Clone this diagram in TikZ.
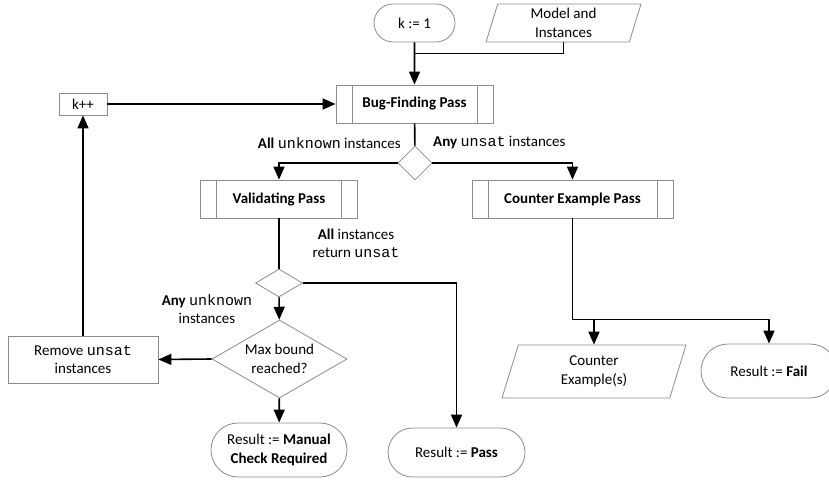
\documentclass[tikz,border=0pt]{standalone}
\usepackage{fontspec}
\setmainfont{Carlito}
\setmonofont{Liberation Mono}
\usetikzlibrary{positioning}
\usetikzlibrary{calc}
\usetikzlibrary{arrows.meta}
\usetikzlibrary{shapes.geometric}
\usetikzlibrary{shapes.misc}

\begin{document}
\begin{tikzpicture}[x=1pt,y=-1pt,
        every node/.style={font=\fontsize{15}{18.5}\selectfont, align=center, inner sep=0pt},
        box/.style={draw=gray!90, line width=0.8pt, fill=white},
        terminal/.style={box, rounded rectangle},
        process/.style={box, rectangle},
        subproc/.style={box, rectangle, minimum width=157pt, minimum height=38pt,
            path picture={
                \draw[gray!90, line width=0.8pt] ([xshift=16pt]path picture bounding box.north west) -- ([xshift=16pt]path picture bounding box.south west);
                \draw[gray!90, line width=0.8pt] ([xshift=-16pt]path picture bounding box.north east) -- ([xshift=-16pt]path picture bounding box.south east);
            }},
        iodata/.style={box, trapezium, trapezium stretches body},
        decision/.style={box, diamond, aspect=1.7},
        wire/.style={line width=1.6pt, draw=black},
        arrow/.style={wire, -{Triangle[length=13pt,width=11pt]}},
        lbl/.style={font=\fontsize{15}{18.5}\selectfont}]
    \useasboundingbox (0,0) rectangle (829,479);

    % Entrada
    \node [terminal, minimum width=81pt, minimum height=38pt] (start) at (414.5,23) {k := 1};
    \node [iodata, trapezium left angle=68, trapezium right angle=112, minimum width=155pt, minimum height=38pt] (model) at (563.5,23) {Model and\\Instances};

    % Passos
    \node [subproc] (bugfind) at (414.5,104) {\textbf{Bug-Finding Pass}};
    \node [process, minimum width=48pt, minimum height=22pt] (incr) at (83,104) {k++};
    \node [decision, minimum width=34pt, minimum height=34pt] (split1) at (415,163) {};
    \node [subproc] (validate) at (279,199) {\textbf{Validating Pass}};
    \node [subproc, minimum width=201pt] (cexpass) at (572.5,199) {\textbf{Counter Example Pass}};
    \node [decision, minimum width=47pt, minimum height=28pt] (split2) at (279,283) {};
    \node [decision, minimum width=135pt, minimum height=78pt] (maxbound) at (279.5,359) {Max bound\\reached?};
    \node [process, minimum width=150pt, minimum height=47pt] (remove) at (83,359.5) {Remove \texttt{unsat}\\instances};

    % Resultados
    \node [terminal, minimum width=136pt, minimum height=54pt] (manual) at (279,450) {Result := \textbf{Manual}\\\textbf{Check Required}};
    \node [terminal, minimum width=137pt, minimum height=49pt] (pass) at (456.5,452.5) {Result := \textbf{Pass}};
    \node [iodata, trapezium left angle=62, trapezium right angle=118, minimum width=184pt, minimum height=53pt] (cexout) at (594,371.5) {Counter\\Example(s)};
    \node [terminal, minimum width=136pt, minimum height=54pt] (fail) at (769,371) {Result := \textbf{Fail}};

    % Rótulos
    \node [lbl, anchor=east] (lunknown) at (401,143) {\textbf{All} \texttt{unknown} instances};
    \node [lbl, anchor=west] (lunsat) at (433,143) {\textbf{Any} \texttt{unsat} instances};
    \node [lbl] (lallunsat) at (356,243.5) {\textbf{All} instances\\return \texttt{unsat}};
    \node [lbl] (lanyunk) at (207,309) {\textbf{Any} \texttt{unknown}\\instances};

    \coordinate (join) at ($(start.south)+(0,11)$);
    \coordinate (fork) at ($(cexpass.south)+(0,101)$);

    % Conexões
    \draw [arrow] (start) -- (bugfind);
    \draw [wire] (model.south) |- (join);
    \draw [arrow] (incr) -- (bugfind);
    \draw [wire] (bugfind) -- (split1);
    \draw [arrow] (split1.west) -| (validate.north);
    \draw [arrow] (split1.east) -| (cexpass.north);
    \draw [wire] (validate) -- (split2);
    \draw [arrow] (split2.east) -| (pass.north);
    \draw [arrow] (split2) -- (maxbound);
    \draw [arrow] (maxbound.west) -- (remove.east);
    \draw [arrow] (remove) -- (incr);
    \draw [arrow] (maxbound) -- (manual);
    \draw [wire] (cexpass.south) -- (fork) -- (fork -| fail.north);
    \draw [arrow] (fork -| cexout.north) -- (cexout.north);
    \draw [arrow] (fork -| fail.north) -- (fail.north);
\end{tikzpicture}
\end{document}
